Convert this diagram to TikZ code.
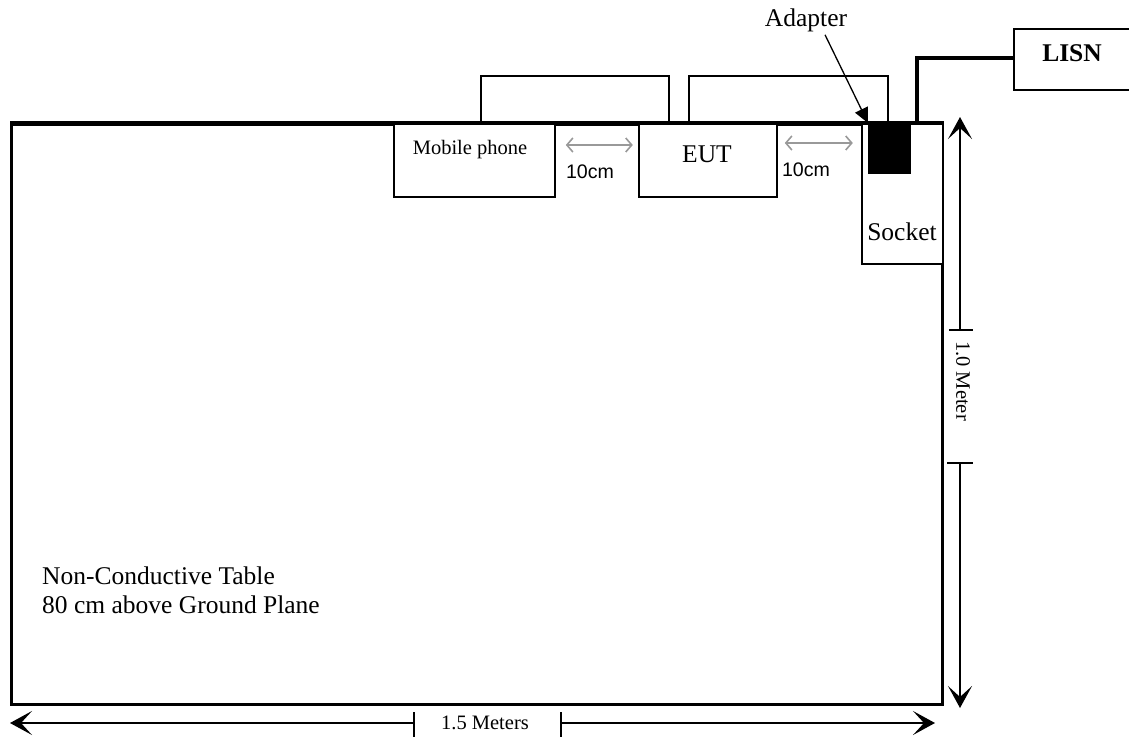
\documentclass[tikz,border=0pt]{standalone}
\usepackage{fontspec}
\setmainfont{Liberation Serif}
\newfontfamily\arialf{Liberation Sans}
\usetikzlibrary{arrows.meta}
\begin{document}
\begin{tikzpicture}[x=1pt,y=-1pt,
  boxs/.style={draw,line width=1.8pt,inner sep=0pt,anchor=north west},
  lblt/.style={inner sep=0pt,font=\fontsize{25.5}{29}\selectfont},
  smallt/.style={inner sep=0pt,font=\fontsize{20.5}{24}\selectfont},
  tencm/.style={inner sep=0pt,font=\arialf\fontsize{19.6}{22}\selectfont},
  gapa/.style={draw=black!40,line width=1.6pt,{Straight Barb[length=6pt,width=14pt]}-{Straight Barb[length=6pt,width=14pt]}},
  dima/.style={line width=1.5pt,-{Stealth[length=22pt,width=24pt,inset=11pt]}},
  ticka/.style={line width=1.5pt},
  cablea/.style={line width=1.8pt}]
\useasboundingbox (0,0) rectangle (1129,738);
% table
\node[draw,line width=3pt,inner sep=0pt,anchor=north west,minimum width=931pt,minimum height=580pt] (table) at (10,123) {};
% cable loops above table
\draw[cablea] (481,123) -- (481,76) -- (669,76) -- (669,123);
\draw[cablea] (689,123) -- (689,76) -- (888,76) -- (888,123);
% boxes
\node[boxs,fill=white,minimum width=161pt,minimum height=73pt] (phone) at (393,123) {};
\node[boxs,fill=white,minimum width=138pt,minimum height=73pt] (eut) at (638,123) {};
\node[boxs,fill=white,minimum width=81pt,minimum height=140pt] (socket) at (861,123) {};
\draw[line width=3pt] (table.north west) -- (table.north east);
\node[fill=black,inner sep=0pt,anchor=north west,minimum width=43pt,minimum height=51pt] (adapter) at (868,123) {};
\node[boxs,minimum width=130pt,minimum height=61pt] (lisn) at (1013,28) {};
% labels
\node[smallt] (phonet) at (470,150) {Mobile phone};
\node[lblt] (eutt) at (707,154) {EUT};
\node[lblt] (sockt) at (902,232) {Socket};
\node[lblt] (adt) at (806,20) {Adapter};
\node[lblt,font=\fontsize{25.5}{29}\selectfont\bfseries] (lisnt) at (1072,53) {LISN};
\node[lblt,anchor=base west,align=left] (tablet) at (42,613) {Non-Conductive Table\\80 cm above Ground Plane};
% LISN cable
\coordinate (c1) at (917,123);
\draw[line width=3.2pt] (c1) -- (917,58) -- (lisn.west |- 0,58);
% adapter arrow
\draw[line width=1.3pt,-{Triangle[length=15pt,width=14pt]}] (adt.south) ++(19,3) -- (adapter.north west);
% 10cm gaps
\draw[gapa] (phone.north east) ++(10,22) -- ++(67,0);
\draw[gapa] (eut.north east) ++(7,20) -- ++(68,0);
\node[tencm] (g1) at (590,172) {10cm};
\node[tencm] (g2) at (806,170) {10cm};
% vertical dimension
\coordinate (vt1) at (960,330);
\coordinate (vt2) at (960,463);
\draw[dima] (vt1) -- (960,117);
\draw[dima] (vt2) -- (960,708);
\draw[ticka] (949,330) -- (973,330);
\draw[ticka] (947,463) -- (973,463);
\node[smallt,rotate=-90] (vtext) at (963,381) {1.0 Meter};
% horizontal dimension
\coordinate (ht1) at (414,723);
\coordinate (ht2) at (561,723);
\draw[dima] (ht1) -- (10,723);
\draw[dima] (ht2) -- (935,723);
\draw[ticka] (414,712) -- (414,737);
\draw[ticka] (561,712) -- (561,737);
\node[smallt] (htext) at (485,723) {1.5 Meters};
\end{tikzpicture}
\end{document}
